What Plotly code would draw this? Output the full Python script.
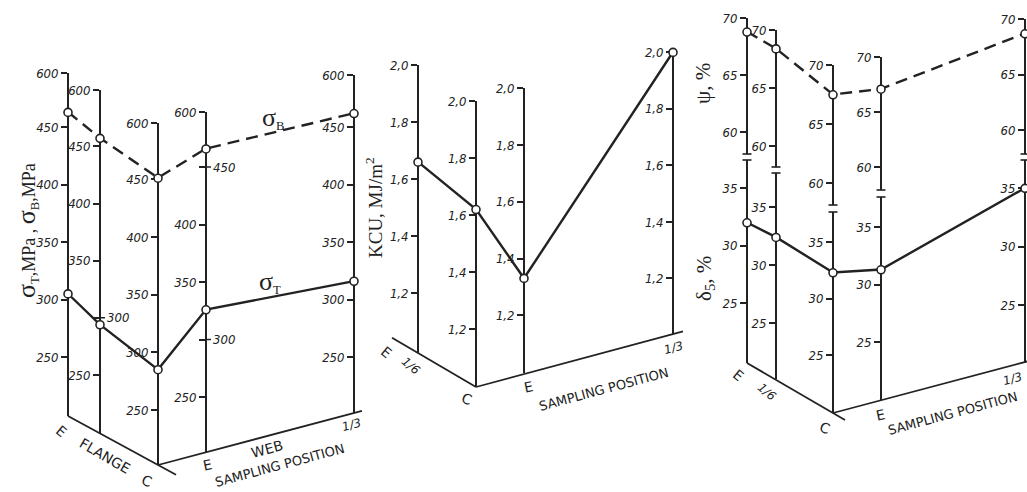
import plotly.graph_objects as go

W, H = 1027, 492
INK = "#222222"

# ---------------- data ----------------
# Panel 1: yield (σТ) and tensile (σВ) strength, MPa, along flange and web
stress_positions = ["flange E", "flange 1/6", "C", "web E", "web 1/3"]
sigma_B = [463, 457, 451, 466, 462]
sigma_T = [305, 294, 285, 326, 316]
stress_ticks = [250, 300, 350, 400, 450]
stress_ticktext = ["250", "300", "350", "400", "450"]
stress_top_text = "600"
# tick labels written on the right-hand side of a scale (scale index -> values)
stress_right_labels = {1: [300], 3: [450, 300]}

# Panel 2: impact toughness KCU, MJ/m²
kcu_positions = ["flange 1/6", "C", "web E", "web 1/3"]
kcu = [1.66, 1.62, 1.33, 2.00]
kcu_ticks = [1.2, 1.4, 1.6, 1.8, 2.0]
kcu_ticktext = ["1,2", "1,4", "1,6", "1,8", "2,0"]

# Panel 3: reduction of area ψ and elongation δ5, %
duct_positions = ["flange E", "flange 1/6", "C", "web E", "web 1/3"]
psi = [68.8, 68.4, 67.5, 67.1, 68.7]
delta5 = [32.0, 32.4, 32.3, 31.3, 35.0]
psi_ticks = [60, 65, 70]
delta_ticks = [25, 30, 35]

# ---------------- scale geometry (pixels) ----------------
# x: column, bottom/top: ends of the scale line, ref/ref_px: a value and its row,
# k: pixels per unit
STRESS_AX = [
    dict(x=68, bottom=416, top=73, ref=450, ref_px=127, k=1.15),
    dict(x=100, bottom=433, top=90, ref=450, ref_px=146, k=1.145),
    dict(x=158, bottom=465, top=123, ref=450, ref_px=179, k=1.155),
    dict(x=206, bottom=452, top=112, ref=450, ref_px=167, k=1.15),
    dict(x=354, bottom=413, top=75, ref=450, ref_px=127, k=1.15),
]
KCU_AX = [
    dict(x=418, bottom=353, top=65, ref=2.0, ref_px=65, k=285),
    dict(x=476, bottom=387, top=101, ref=2.0, ref_px=101, k=285),
    dict(x=524, bottom=373, top=88, ref=2.0, ref_px=88, k=284),
    dict(x=673, bottom=334, top=52, ref=2.0, ref_px=52, k=283),
]
PSI_AX = [
    dict(x=747, bottom=154, top=18, ref=70, ref_px=18, k=11.4),
    dict(x=776, bottom=167, top=30, ref=70, ref_px=30, k=11.6),
    dict(x=833, bottom=205, top=65, ref=70, ref_px=65, k=11.8),
    dict(x=881, bottom=190, top=57, ref=70, ref_px=57, k=11.0),
    dict(x=1025, bottom=154, top=19, ref=70, ref_px=19, k=11.1),
]
DELTA_AX = [
    dict(x=747, bottom=363, top=160, ref=35, ref_px=188, k=11.5),
    dict(x=776, bottom=379, top=173, ref=35, ref_px=207, k=11.6),
    dict(x=833, bottom=413, top=212, ref=35, ref_px=242, k=11.3),
    dict(x=881, bottom=400, top=197, ref=35, ref_px=227, k=11.5),
    dict(x=1025, bottom=362, top=160, ref=35, ref_px=188, k=11.7),
]

fig = go.Figure()
_axis_no = [1]

TICK_FAMILY = "DejaVu Sans Condensed, DejaVu Sans, sans-serif"
TICK_FONT = dict(family=TICK_FAMILY, size=13, color=INK)


def ital(s):
    return f"<i>{s}</i>" if s else ""


def value_range(g):
    lo = g["ref"] - (g["bottom"] - g["ref_px"]) / g["k"]
    hi = g["ref"] + (g["ref_px"] - g["top"]) / g["k"]
    return lo, hi


def to_px(g, v):
    return g["ref_px"] - (v - g["ref"]) * g["k"]


def add_scale(g, tickvals, ticktext):
    _axis_no[0] += 1
    n = _axis_no[0]
    lo, hi = value_range(g)
    pad = 0.4 / g["k"]
    fig.layout[f"yaxis{n}"] = dict(
        domain=[1 - g["bottom"] / H, 1 - g["top"] / H],
        range=[lo, hi + pad],
        anchor="free", position=g["x"] / W, side="left",
        showline=True, linecolor=INK, linewidth=1.8,
        ticks="outside", ticklen=6, tickwidth=1.5, tickcolor=INK,
        tickvals=tickvals, ticktext=[ital(t) for t in ticktext],
        tickfont=TICK_FONT,
        showgrid=False, zeroline=False, automargin=False,
        fixedrange=True, layer="below traces",
    )
    return f"y{n}"


def add_points(g, yref, values):
    fig.add_trace(go.Scatter(
        x=[g["x"]] * len(values), y=values, xaxis="x", yaxis=yref,
        mode="markers", cliponaxis=False, hoverinfo="skip", showlegend=False,
        marker=dict(symbol="circle", size=8, color="white",
                    line=dict(color=INK, width=1.6)),
    ))


def add_profile(axes, values, dash):
    fig.add_trace(go.Scatter(
        x=[g["x"] for g in axes], y=[to_px(g, v) for g, v in zip(axes, values)],
        xaxis="x", yaxis="y", mode="lines", hoverinfo="skip", showlegend=False,
        line=dict(color=INK, width=2.4, dash=dash),
    ))


# connecting profiles (pixel frame), drawn first so the circles sit on top
add_profile(STRESS_AX, sigma_B, "12px,7px")
add_profile(STRESS_AX, sigma_T, "solid")
add_profile(KCU_AX, kcu, "solid")
add_profile(PSI_AX, psi, "12px,7px")
add_profile(DELTA_AX, delta5, "solid")

shapes = []
ann = []

# vertical scales with their measured points
for i, (g, b, t) in enumerate(zip(STRESS_AX, sigma_B, sigma_T)):
    lo, hi = value_range(g)
    right = stress_right_labels.get(i, [])
    labels = ["" if v in right else s for v, s in zip(stress_ticks, stress_ticktext)]
    yref = add_scale(g, stress_ticks + [hi], labels + [stress_top_text])
    add_points(g, yref, [b, t])
    for v in right:
        yy = to_px(g, v)
        shapes.append(dict(type="line", xref="x", yref="y", x0=g["x"], x1=g["x"] + 5,
                           y0=yy, y1=yy, line=dict(color=INK, width=1.5)))
        ann.append(dict(x=g["x"] + 5, y=yy, xref="x", yref="y", text=ital(str(v)),
                        showarrow=False, xanchor="left", yanchor="middle",
                        font=dict(family=TICK_FAMILY, size=13, color=INK)))

for g, v in zip(KCU_AX, kcu):
    yref = add_scale(g, kcu_ticks, kcu_ticktext)
    add_points(g, yref, [v])

for g, v in zip(PSI_AX, psi):
    yref = add_scale(g, psi_ticks, [str(t) for t in psi_ticks])
    add_points(g, yref, [v])

for g, v in zip(DELTA_AX, delta5):
    yref = add_scale(g, delta_ticks, [str(t) for t in delta_ticks])
    add_points(g, yref, [v])

# ---------------- floor lines and scale breaks ----------------


def floor(a, b, ext_before=0.0, ext_after=0.0):
    x0, y0 = a["x"], a["bottom"]
    x1, y1 = b["x"], b["bottom"]
    s = (y1 - y0) / (x1 - x0)
    xa, xb = x0 - ext_before, x1 + ext_after
    shapes.append(dict(type="line", xref="x", yref="y",
                       x0=xa, y0=y0 + s * (xa - x0), x1=xb, y1=y0 + s * (xb - x0),
                       line=dict(color=INK, width=1.8)))


floor(STRESS_AX[0], STRESS_AX[2], 0, 18)
floor(STRESS_AX[2], STRESS_AX[4], 0, 8)
floor(KCU_AX[0], KCU_AX[1], 26, 0)
floor(KCU_AX[1], KCU_AX[3], 0, 10)
floor(DELTA_AX[0], DELTA_AX[2], 0, 12)
floor(DELTA_AX[2], DELTA_AX[4], 0, 10)

for gp, gd in zip(PSI_AX, DELTA_AX):
    for yy in (gp["bottom"], gd["top"]):
        shapes.append(dict(type="line", xref="x", yref="y",
                           x0=gp["x"] - 4.5, x1=gp["x"] + 4.5, y0=yy, y1=yy,
                           line=dict(color=INK, width=1.6)))

# ---------------- text ----------------
SERIF = "Liberation Serif, Times New Roman, serif"
SANS = "DejaVu Sans, sans-serif"


def text(x, y, s, size=13, family=SANS, angle=0, italic=False):
    ann.append(dict(x=x, y=y, xref="x", yref="y", text=ital(s) if italic else s,
                    showarrow=False, textangle=angle,
                    font=dict(family=family, size=size, color=INK),
                    xanchor="center", yanchor="middle"))


BIG = "<span style='font-size:26px'>σ</span>"
text(27, 231, f"{BIG}<sub>Т</sub>,MPa , {BIG}<sub>В</sub>,MPa", 18, SERIF, -90)
text(273, 118, f"{BIG}<sub>В</sub>", 18, SERIF)
text(270, 282, f"{BIG}<sub>Т</sub>", 18, SERIF)
text(374, 208, "KCU, MJ/m<sup>2</sup>", 19, SERIF, -90)
text(703, 84, "ψ, %", 21, SERIF, -90)
text(705, 279, "δ<sub>5</sub>, %", 21, SERIF, -90)

# panel 1 floor labels
text(61, 431, "E", 14, angle=40)
text(105, 456, "FLANGE", 14, angle=30)
text(147, 481, "C", 14, angle=20)
text(207, 465, "E", 14, angle=-12)
text(267, 449, "WEB", 14, angle=-15)
text(279, 465, "SAMPLING POSITION", 13, angle=-15)
text(351, 425, "1/3", 12, angle=-15, italic=True)

# panel 2 floor labels
text(386, 352, "E", 14, angle=40)
text(411, 366, "1/6", 12, angle=40, italic=True)
text(467, 399, "C", 14, angle=20)
text(528, 387, "E", 14, angle=-12)
text(603, 389, "SAMPLING POSITION", 13, angle=-15)
text(673, 348, "1/3", 12, angle=-15, italic=True)

# panel 3 floor labels
text(738, 375, "E", 14, angle=40)
text(767, 392, "1/6", 12, angle=40, italic=True)
text(825, 428, "C", 14, angle=20)
text(880, 415, "E", 14, angle=-12)
text(952, 413, "SAMPLING POSITION", 13, angle=-15)
text(1012, 379, "1/3", 12, angle=-15, italic=True)

fig.update_layout(
    width=W, height=H, template="none",
    margin=dict(l=0, r=0, t=0, b=0, pad=0),
    paper_bgcolor="white", plot_bgcolor="rgba(0,0,0,0)",
    showlegend=False,
    xaxis=dict(range=[0, W], domain=[0, 1], visible=False, fixedrange=True,
               automargin=False),
    yaxis=dict(range=[H, 0], domain=[0, 1], visible=False, fixedrange=True,
               automargin=False),
    shapes=shapes, annotations=ann,
)

fig.write_html("out.html")
